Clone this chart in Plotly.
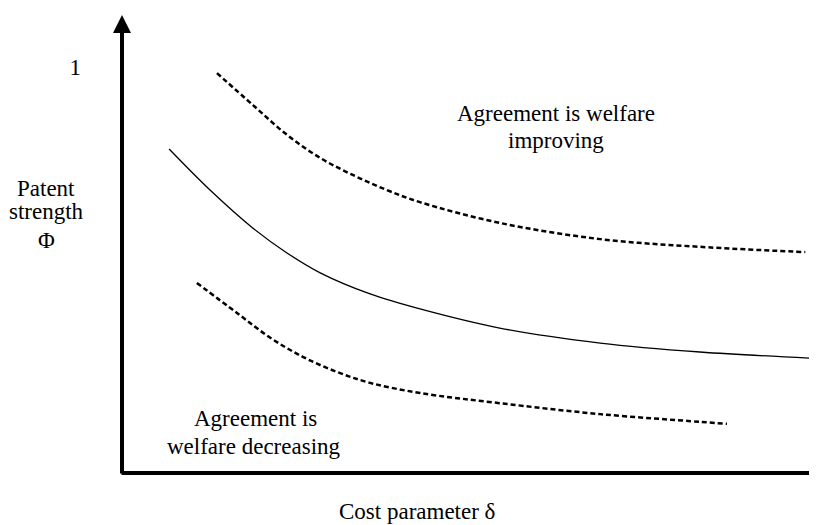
import plotly.graph_objects as go

# Data (abstract units: x = cost parameter delta, y = patent strength Phi)
upper_x = [0.137, 0.189, 0.238, 0.286, 0.333, 0.382, 0.430, 0.545, 0.690, 0.834, 0.986]
upper_y = [0.985, 0.906, 0.833, 0.776, 0.734, 0.697, 0.667, 0.616, 0.576, 0.557, 0.544]

mid_x = [0.068, 0.127, 0.189, 0.238, 0.286, 0.358, 0.430, 0.545, 0.690, 0.834, 0.993]
mid_y = [0.798, 0.697, 0.603, 0.542, 0.493, 0.441, 0.404, 0.357, 0.320, 0.298, 0.283]

lower_x = [0.108, 0.166, 0.214, 0.261, 0.310, 0.358, 0.430, 0.545, 0.690, 0.834, 0.873]
lower_y = [0.468, 0.394, 0.333, 0.286, 0.249, 0.222, 0.197, 0.172, 0.145, 0.126, 0.121]

y_tickvals = [1]
y_ticktext = ["1"]

FONT = "Liberation Serif, Times New Roman, serif"
FS = 23

# figure sits inside the page's 8px body margin
OFF = 8
W, H = 817 - OFF, 525 - OFF
ML, MR, MT, MB = 122 - OFF, 2, 15 - OFF, 52
PW, PH = W - ML - MR, H - MT - MB

fig = go.Figure()
fig.add_trace(go.Scatter(x=upper_x, y=upper_y, mode="lines", line_shape="spline",
                         line=dict(color="black", width=2.5, dash="5px,3px"), showlegend=False))
fig.add_trace(go.Scatter(x=mid_x, y=mid_y, mode="lines", line_shape="spline",
                         line=dict(color="black", width=1.3), showlegend=False))
fig.add_trace(go.Scatter(x=lower_x, y=lower_y, mode="lines", line_shape="spline",
                         line=dict(color="black", width=2.5, dash="5px,3px"), showlegend=False))

fig.update_layout(
    width=W, height=H,
    margin=dict(l=ML, r=MR, t=MT, b=MB),
    paper_bgcolor="white", plot_bgcolor="white",
    font=dict(family=FONT, size=FS, color="black"),
    xaxis=dict(range=[0, 1], showgrid=False, zeroline=False, showline=False,
               showticklabels=False, ticks=""),
    yaxis=dict(range=[0, 1.128], showgrid=False, zeroline=False, showline=False,
               tickvals=y_tickvals, ticktext=y_ticktext, ticks="",
               ticklabelstandoff=40, tickfont=dict(family=FONT, size=FS)),
)

# Axes with arrow / end marker
fig.add_annotation(x=0, y=1, xref="x domain", yref="y domain", ax=0, ay=PH + 2,
                   showarrow=True, arrowhead=2, arrowsize=0.9, arrowwidth=4,
                   arrowcolor="black", text="")
fig.add_annotation(x=1, y=0, xref="x domain", yref="y domain", ax=-(PW + 2), ay=0,
                   showarrow=True, arrowhead=7, arrowsize=0.6, arrowwidth=4,
                   arrowcolor="black", text="")


def label(text, px, py):
    """Place text centred at a pixel position of the reference page."""
    fx, fy = px - OFF, py - OFF
    fig.add_annotation(x=(fx - ML) / PW, y=(H - MB - fy) / PH, xref="paper", yref="paper",
                       text=text, showarrow=False, xanchor="center", yanchor="middle",
                       font=dict(family=FONT, size=FS))


label("Patent", 46, 188)
label("strength", 46, 212)
label("Φ", 46, 240)
label("Cost parameter δ", 417, 511)
label("Agreement is welfare", 556, 113)
label("improving", 556, 140)
label("Agreement is", 255, 418)
label("welfare decreasing", 254, 446)

fig.write_html("out.html")
